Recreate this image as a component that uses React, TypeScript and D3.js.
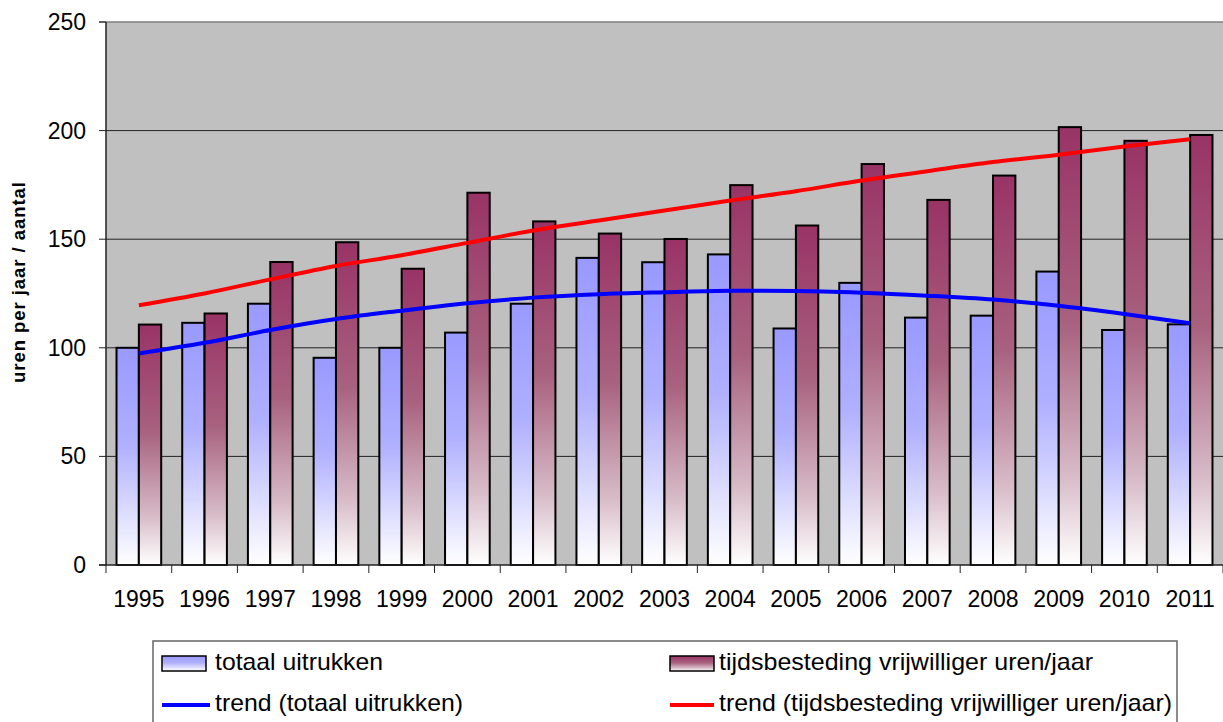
import React from "react";
import * as d3 from "d3";

const years = ["1995","1996","1997","1998","1999","2000","2001","2002","2003","2004","2005","2006","2007","2008","2009","2010","2011"];
const totaalUitrukken = [100, 111.5, 120.3, 95.4, 100, 107, 120.3, 141.4, 139.4, 143, 108.9, 129.9, 113.9, 114.8, 135.1, 108.2, 110.8];
const tijdsbesteding = [110.7, 115.8, 139.5, 148.6, 136.4, 171.4, 158.2, 152.6, 150.1, 174.9, 156.3, 184.6, 168.1, 179.3, 201.6, 195.3, 198];
const trendTotaal = [97.4, 102.3, 108.2, 113.3, 117.1, 120.5, 123.1, 124.7, 125.6, 126.3, 126.2, 125.4, 124, 122.2, 119.4, 115.6, 111.3];
const trendTijd = [119.6, 125, 131.5, 137.7, 142.6, 148.3, 154, 158.6, 163.2, 167.8, 172.1, 177, 181.3, 185.5, 188.9, 192.7, 196];
const yTicks = [0, 50, 100, 150, 200, 250];
const seriesKeys = ["totaal", "tijd"];

const W = 1223, H = 722;
const L = 106, R = 1223, T = 22, B = 565;

export default function App() {
  const x0 = d3.scaleBand<string>().domain(years).range([L, R]).paddingInner(0.32).paddingOuter(0.16);
  const x1 = d3.scaleBand<string>().domain(seriesKeys).range([0, x0.bandwidth()]).padding(0);
  const y = d3.scaleLinear().domain([0, 250]).range([B, T]);
  const step = x0.step();
  const cx = (yr: string) => (x0(yr) as number) + x0.bandwidth() / 2;
  const line = d3.line<number>().x((_, i) => cx(years[i])).y((v) => y(v)).curve(d3.curveMonotoneX);
  const font = "'Liberation Sans', Arial, sans-serif";

  return (
    <svg width={W} height={H} style={{ position: "absolute", left: 0, top: 0, background: "#fff" }} fontFamily={font}>
      <defs>
        <linearGradient id="gBlue" x1="0" y1="0" x2="0" y2="1">
          <stop offset="0" stopColor="#9999FF" />
          <stop offset="0.45" stopColor="#B0B0FF" />
          <stop offset="1" stopColor="#FFFFFF" />
        </linearGradient>
        <linearGradient id="gRed" x1="0" y1="0" x2="0" y2="1">
          <stop offset="0" stopColor="#993366" />
          <stop offset="0.45" stopColor="#A8627F" />
          <stop offset="0.8" stopColor="#D8BCC8" />
          <stop offset="1" stopColor="#FFFFFF" />
        </linearGradient>
      </defs>
      <rect x={L} y={T} width={R - L} height={B - T} fill="#C0C0C0" />
      {yTicks.filter((t) => t > 0 && t < 250).map((t) => (
        <line key={t} x1={L} x2={R} y1={y(t)} y2={y(t)} stroke="#222" strokeWidth={1} />
      ))}
      <line x1={L - 7} x2={R} y1={y(250)} y2={y(250)} stroke="#808080" strokeWidth={1.5} />
      {yTicks.map((t) => (
        <g key={"yt" + t}>
          <line x1={L - 7} x2={L} y1={y(t)} y2={y(t)} stroke="#222" strokeWidth={1} />
          <text x={86} y={y(t) + 8} textAnchor="end" fontSize={23} fill="#000">{t}</text>
        </g>
      ))}
      {years.map((yr, i) => (
        <g key={yr}>
          <rect x={(x0(yr) as number) + (x1("totaal") as number)} y={y(totaalUitrukken[i])} width={x1.bandwidth()} height={B - y(totaalUitrukken[i])} fill="url(#gBlue)" stroke="#000" strokeWidth={2} />
          <rect x={(x0(yr) as number) + (x1("tijd") as number)} y={y(tijdsbesteding[i])} width={x1.bandwidth()} height={B - y(tijdsbesteding[i])} fill="url(#gRed)" stroke="#000" strokeWidth={2} />
        </g>
      ))}
      <path d={line(trendTotaal) || ""} fill="none" stroke="#0000FF" strokeWidth={4} />
      <path d={line(trendTijd) || ""} fill="none" stroke="#FF0000" strokeWidth={4} />
      <line x1={L} x2={L} y1={T} y2={B} stroke="#222" strokeWidth={1.5} />
      <line x1={L - 7} x2={R} y1={B} y2={B} stroke="#222" strokeWidth={1.5} />
      {d3.range(years.length + 1).map((i) => (
        <line key={"xt" + i} x1={L + i * step} x2={L + i * step} y1={B} y2={B + 8} stroke="#222" strokeWidth={1} />
      ))}
      {years.map((yr) => (
        <text key={"xl" + yr} x={cx(yr)} y={607} textAnchor="middle" fontSize={23} fill="#000">{yr}</text>
      ))}
      <text transform="translate(25,282.5) rotate(-90)" textAnchor="middle" fontSize={18.5} fontWeight="bold" textLength={201} lengthAdjust="spacing">uren per jaar / aantal</text>
      <rect x={153} y={641} width={1024} height={120} fill="#fff" stroke="#666" strokeWidth={1.5} />
      <rect x={162} y={656} width={44} height={15} fill="url(#gBlue)" stroke="#000" strokeWidth={1.5} />
      <text x={215} y={670} fontSize={24} textLength={168} lengthAdjust="spacingAndGlyphs">totaal uitrukken</text>
      <rect x={670} y={656} width={44} height={15} fill="url(#gRed)" stroke="#000" strokeWidth={1.5} />
      <text x={719} y={670} fontSize={24} textLength={374} lengthAdjust="spacingAndGlyphs">tijdsbesteding vrijwilliger uren/jaar</text>
      <line x1={162} x2={210} y1={705} y2={705} stroke="#0000FF" strokeWidth={4} />
      <text x={215} y={711} fontSize={24} textLength={248} lengthAdjust="spacingAndGlyphs">trend (totaal uitrukken)</text>
      <line x1={670} x2={714} y1={705} y2={705} stroke="#FF0000" strokeWidth={4} />
      <text x={719} y={711} fontSize={24} textLength={453} lengthAdjust="spacingAndGlyphs">trend (tijdsbesteding vrijwilliger uren/jaar)</text>
    </svg>
  );
}
